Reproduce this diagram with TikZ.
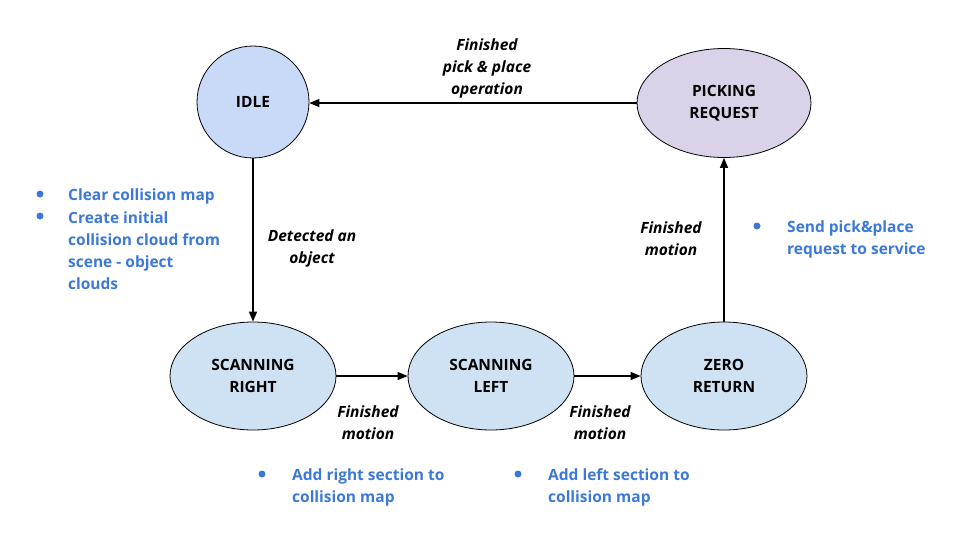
\documentclass[tikz,border=0pt]{standalone}
\usepackage{fontspec}
\setmainfont{Open Sans}
\usetikzlibrary{shapes.geometric,arrows.meta}
\definecolor{idlefill}{HTML}{C9DAF8}
\definecolor{scanfill}{HTML}{CFE2F3}
\definecolor{pickfill}{HTML}{D9D2E9}
\definecolor{notecol}{HTML}{3C78D8}

\begin{document}
\begin{tikzpicture}[
    x=1pt, y=-1pt,
    every node/.style={font=\fontsize{15.5}{22}\selectfont\bfseries, align=center},
    state/.style={ellipse, draw, line width=0.8pt, minimum width=166pt, minimum height=108pt, inner sep=0pt},
    trans/.style={line width=1.4pt, -{Triangle[length=10pt,width=8pt]}},
    lbl/.style={font=\fontsize{15.5}{22}\selectfont\bfseries\itshape},
    note/.style={anchor=west, align=left, text=notecol, inner sep=0pt},
    dot/.style={circle, fill=notecol, inner sep=0pt, minimum size=7pt}
   ]
   \useasboundingbox (0,0) rectangle (969,542);
   % states
   \node[state, circle, fill=idlefill, minimum size=112pt] (idle) at (253,102) {IDLE};
   \node[state, fill=pickfill, minimum width=174pt, minimum height=109pt] (pick) at (724,103) {PICKING\\REQUEST};
   \node[state, fill=scanfill] (scanr) at (253,376) {SCANNING\\RIGHT};
   \node[state, fill=scanfill] (scanl) at (491,376) {SCANNING\\LEFT};
   \node[state, fill=scanfill] (zero) at (724,376) {ZERO\\RETURN};
   % transitions
   \draw[trans] (pick) -- (pick -| idle.east);
   \draw[trans] (idle) -- (scanr);
   \draw[trans] (scanr) -- (scanl);
   \draw[trans] (scanl) -- (zero);
   \draw[trans] (zero) -- (pick);
   \node[lbl] (l1) at (487,68) {Finished\\pick \& place\\operation};
   \node[lbl] (l2) at (312,248) {Detected an\\object};
   \node[lbl] (l3) at (368,423) {Finished\\motion};
   \node[lbl] (l4) at (600,423) {Finished\\motion};
   \node[lbl] (l5) at (671,239) {Finished\\motion};
   % notes
   \node[dot] (d1) at (40,194) {};
   \node[note] (n1) at (68,196) {Clear collision map};
   \node[dot] (d2) at (40,216) {};
   \node[note] (n2) at (68,251) {Create initial\\collision cloud from\\scene - object\\clouds};
   \node[dot] (d3) at (757,226) {};
   \node[note] (n3) at (787,239) {Send pick\&place\\request to service};
   \node[dot] (d4) at (262,474) {};
   \node[note] (n4) at (292,487) {Add right section to\\collision map};
   \node[dot] (d5) at (518,474) {};
   \node[note] (n5) at (548,487) {Add left section to\\collision map};
  \end{tikzpicture}
\end{document}
